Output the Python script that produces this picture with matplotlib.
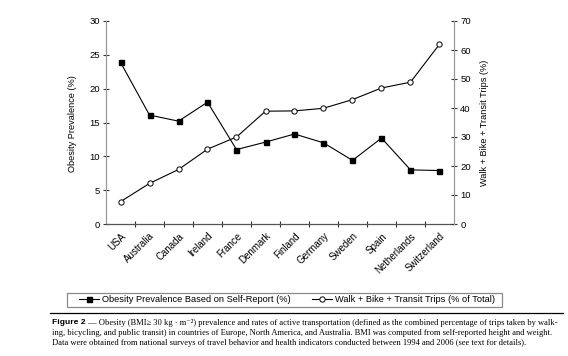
import matplotlib
matplotlib.use("Agg")
import matplotlib.pyplot as plt
import numpy as np
from matplotlib.lines import Line2D
from matplotlib.patches import Rectangle

countries = ["USA", "Australia", "Canada", "Ireland", "France", "Denmark",
             "Finland", "Germany", "Sweden", "Spain", "Netherlands", "Switzerland"]
obesity = [23.9, 16.1, 15.2, 18.0, 11.0, 12.1, 13.3, 12.0, 9.4, 12.7, 8.0, 7.9]
active_trips = [7.7, 14.0, 18.8, 25.8, 30.0, 38.9, 39.0, 39.9, 42.9, 46.9, 48.9, 62.0]
left_ticks = [0, 5, 10, 15, 20, 25, 30]
right_ticks = [0, 10, 20, 30, 40, 50, 60, 70]
label_obesity = "Obesity Prevalence Based on Self-Report (%)"
label_trips = "Walk + Bike + Transit Trips (% of Total)"

SANS = ["Liberation Sans", "DejaVu Sans"]
SERIF = ["Liberation Serif", "DejaVu Serif"]
plt.rcParams["font.family"] = SANS

W, H = 568, 356
fig = plt.figure(figsize=(W / 100, H / 100), dpi=100)
L, R, T, B = 106, 454, 21, 224
ax = fig.add_axes([L / W, 1 - B / H, (R - L) / W, (B - T) / H])
ax2 = ax.twinx()

x = np.arange(len(countries))
l1, = ax.plot(x, obesity, color="black", lw=0.8, marker="s", ms=3.6,
              mfc="black", mec="black", label=label_obesity, clip_on=False)
l2, = ax2.plot(x, active_trips, color="black", lw=0.8, marker="o", ms=3.8,
               mfc="white", mec="black", mew=0.7, label=label_trips, clip_on=False)

ax.set_xlim(-0.5, len(countries) - 0.5)
ax.set_ylim(0, 30)
ax2.set_ylim(0, 70)
ax.set_yticks(left_ticks)
ax2.set_yticks(right_ticks)

# boundary tick marks, labels at category centers
ax.set_xticks(np.arange(0.5, len(countries) - 0.5, 1))
ax.set_xticklabels([])
ax.set_xticks(x, minor=True)
ax.set_xticklabels(countries, minor=True, rotation=45, ha="right",
                   rotation_mode="anchor", fontsize=7)
ax.tick_params(axis="x", which="minor", length=0, pad=5)
ax.tick_params(axis="x", which="major", direction="inout", length=5, width=0.8, color="#333333")

for a in (ax, ax2):
    a.spines["top"].set_visible(False)
    a.set_facecolor("none")
ax.spines["right"].set_visible(False)
ax2.spines["left"].set_visible(False)
ax2.spines["bottom"].set_visible(False)
ax.spines["left"].set_color("#9a9a9a")
ax2.spines["right"].set_color("#9a9a9a")
ax.spines["bottom"].set_color("#555555")
for a in (ax, ax2):
    for s in a.spines.values():
        s.set_linewidth(0.9)

ax.tick_params(axis="y", direction="inout", length=5, width=0.8, color="#333333",
               labelsize=6.8, pad=2)
ax2.tick_params(axis="y", direction="inout", length=5, width=0.8, color="#333333",
                labelsize=6.8, pad=2)

ax.set_ylabel("Obesity Prevalence (%)", fontsize=6.6)
ax.yaxis.set_label_coords(-0.083, 0.495)
ax2.set_ylabel("Walk + Bike + Transit Trips (%)", fontsize=6.6, rotation=90)
ax2.yaxis.set_label_coords(1.075, 0.5)

# legend frame drawn separately so its padding matches the reference
fig.add_artist(Rectangle((67 / W, 1 - 307 / H), (502 - 67) / W, 14 / H,
                         transform=fig.transFigure, facecolor="white",
                         edgecolor="#8a8a8a", lw=0.9))
leg = fig.legend(handles=[l1, l2], loc="center",
                 bbox_to_anchor=(287 / W, 1 - 300 / H), ncol=2, fontsize=6.7,
                 frameon=False, handlelength=2.2, handletextpad=0.3,
                 columnspacing=2.3, borderpad=0.2, borderaxespad=0)

# caption rule
fig.add_artist(Line2D([50 / W, 563 / W], [1 - 313 / H, 1 - 313 / H],
                      color="black", lw=0.9))

cap_fs = 6.1
t1 = fig.text(52 / W, 1 - 323 / H, "Figure 2", fontsize=cap_fs, fontweight="bold",
              family=SANS, va="center", ha="left")
ax.annotate(" \u2014 Obesity (BMI\u2265 30 kg \u00b7 m\u207b\u00b2) prevalence and rates of active "
            "transportation (defined as the combined percentage of trips taken by walk-",
            xy=(1, 0.5), xycoords=t1, va="center", ha="left", fontsize=cap_fs,
            family=SERIF, annotation_clip=False)
fig.text(52 / W, 1 - 333 / H,
         "ing, bicycling, and public transit) in countries of Europe, North America, and "
         "Australia. BMI was computed from self-reported height and weight.",
         fontsize=cap_fs, family=SERIF, va="center", ha="left")
fig.text(52 / W, 1 - 343 / H,
         "Data were obtained from national surveys of travel behavior and health indicators "
         "conducted between 1994 and 2006 (see text for details).",
         fontsize=cap_fs, family=SERIF, va="center", ha="left")

fig.savefig("out.png", dpi=100)
